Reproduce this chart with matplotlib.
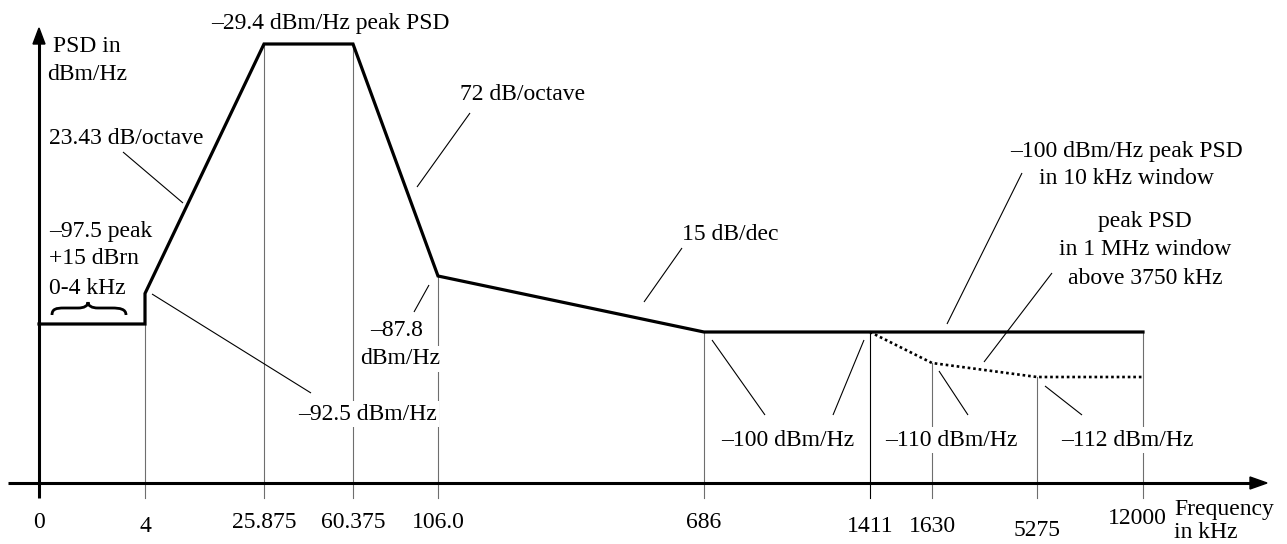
import numpy as np
import matplotlib
matplotlib.use("Agg")
import matplotlib.pyplot as plt
from matplotlib.lines import Line2D
from matplotlib.patches import Polygon, PathPatch
from matplotlib.path import Path
import matplotlib.transforms as mtransforms

# ---------------- data ----------------
tick_freqs = [0, 4, 25.875, 60.375, 106.0, 686, 1411, 1630, 5275, 12000]
tick_labels = ["0", "4", "25.875", "60.375", "106.0", "686", "1411", "1630", "5275", "12000"]

mask_freq = [0, 4, 4, 25.875, 60.375, 106.0, 686, 12000]
mask_psd = [-97.5, -97.5, -92.5, -29.4, -29.4, -87.8, -100, -100]

window_freq = [1411, 1630, 5275, 12000]
window_psd = [-100, -110, -112, -112]

drop_freq = [4, 25.875, 60.375, 106.0, 686, 1411, 1630, 5275, 12000]
drop_psd = [-97.5, -29.4, -29.4, -87.8, -100, -100, -110, -112, -100]

# ---------------- layout (schematic, non-proportional axes) ----------------
W, H = 1287, 544
x_anchor_px = [39, 145, 264, 353, 438, 704, 870, 932, 1037, 1143]
psd_anchor = [-112, -110, -100, -97.5, -92.5, -87.8, -29.4]
y_anchor_px = [377, 363, 332, 324, 293.5, 276, 44]

FONT = "Liberation Serif"
FS = 17
DY = 2  # vertical nudge of text centres (px)


def pw(xs, ys):
    xs = np.asarray(xs, float)
    ys = np.asarray(ys, float)

    def f(v):
        v = np.asarray(v, float)
        out = np.interp(v, xs, ys)
        lo = ys[0] + (v - xs[0]) * (ys[1] - ys[0]) / (xs[1] - xs[0])
        hi = ys[-1] + (v - xs[-1]) * (ys[-1] - ys[-2]) / (xs[-1] - xs[-2])
        return np.where(v < xs[0], lo, np.where(v > xs[-1], hi, out))
    return f


fx = pw(tick_freqs, x_anchor_px)
ix = pw(x_anchor_px, tick_freqs)
ys_scaled = H - np.asarray(y_anchor_px, float)
fy = pw(psd_anchor, ys_scaled)
iy = pw(ys_scaled, psd_anchor)

fig = plt.figure(figsize=(W / 100, H / 100), dpi=100)
ax = fig.add_axes([0, 0, 1, 1])
ax.set_xscale("function", functions=(fx, ix))
ax.set_yscale("function", functions=(fy, iy))
ax.set_xlim(float(ix(0)), float(ix(W)))
ax.set_ylim(float(iy(0)), float(iy(H)))
ax.axis("off")


def P(x, y):
    return (x / W, 1 - y / H)


def line_px(xs, ys, lw=0.8, color="black", z=4):
    fig.add_artist(Line2D([x / W for x in xs], [1 - y / H for y in ys],
                          transform=fig.transFigure, lw=lw, color=color,
                          zorder=z, solid_capstyle="butt"))


def txt(x, y, s, ha="center", bg=False):
    kw = {}
    if bg:
        kw["bbox"] = dict(facecolor="white", edgecolor="none", pad=1.5)
    fig.text(x / W, 1 - (y + DY) / H, s, ha=ha, va="center", fontsize=FS,
             family=FONT, zorder=5, **kw)


# ---------------- axes (arrows) ----------------
AX_Y = 483
TICK_BOTTOM = 498
line_px([8, 1252], [AX_Y, AX_Y], lw=2.2)
fig.add_artist(Polygon([P(1267, AX_Y), P(1250, AX_Y - 6), P(1250, AX_Y + 6)],
                       closed=True, transform=fig.transFigure, color="black", zorder=4))
line_px([39, 39], [TICK_BOTTOM, 41], lw=2.2)
fig.add_artist(Polygon([P(39, 28), P(33, 44), P(45, 44)],
                       closed=True, transform=fig.transFigure, color="black", zorder=4))

# vertical drop lines from curve to below the axis
ybot = float(iy(H - TICK_BOTTOM))
for f, p in zip(drop_freq, drop_psd):
    col = "black" if f == 1411 else "#6e6e6e"
    ax.plot([f, f], [p, ybot], color=col, lw=0.8, clip_on=False, zorder=1)

# PSD mask
ax.plot(mask_freq, mask_psd, color="black", lw=2.3, clip_on=False, zorder=3,
        solid_joinstyle="miter")
ax.plot(window_freq, window_psd, color="black", lw=1.9, clip_on=False, zorder=3,
        linestyle=(0, (1.0, 1.1)))

# tick labels
label_y = [521, 524, 521, 520, 520, 521, 525, 525, 528, 517]
label_dx = [0, 0, 0, 0, 0, 0, 0, 0, 0, -6]
for f, lab, yy, dx in zip(tick_freqs, tick_labels, label_y, label_dx):
    tr = mtransforms.blended_transform_factory(ax.transData, fig.transFigure) + \
        mtransforms.ScaledTranslation(dx / 100, 0, fig.dpi_scale_trans)
    ax.text(f, 1 - (yy + DY) / H, lab, transform=tr, ha="center", va="center",
            fontsize=FS, family=FONT)
txt(1174, 508, "Frequency", ha="left")
txt(1174, 530, "in kHz", ha="left")

# ---------------- annotations ----------------
txt(87, 45, "PSD in")
txt(87, 72, "dBm/Hz")
txt(330, 22, "\u201329.4 dBm/Hz peak PSD")
txt(49, 137, "23.43 dB/octave", ha="left")
line_px([123, 183], [152, 203])
txt(49, 230, "\u201397.5 peak", ha="left")
txt(49, 257, "+15 dBrn", ha="left")
txt(49, 287, "0-4 kHz", ha="left")

# curly brace over 0-4 kHz
verts = [(52, 315), (52, 309), (56, 308), (64, 308),
         (78, 308),
         (84, 308), (88, 306), (88, 302),
         (88, 306), (92, 308), (98, 308),
         (112, 308),
         (120, 308), (126, 309), (126, 315)]
codes = [Path.MOVETO, Path.CURVE4, Path.CURVE4, Path.CURVE4,
         Path.LINETO,
         Path.CURVE4, Path.CURVE4, Path.CURVE4,
         Path.CURVE4, Path.CURVE4, Path.CURVE4,
         Path.LINETO,
         Path.CURVE4, Path.CURVE4, Path.CURVE4]
bp = Path([P(x, y) for x, y in verts], codes)
fig.add_artist(PathPatch(bp, transform=fig.transFigure, fill=False, lw=2.0,
                         edgecolor="black", zorder=4))

txt(523, 93, "72 dB/octave")
line_px([470, 417], [113, 187])
txt(730, 233, "15 dB/dec")
line_px([682, 644], [248, 302])

txt(397, 328, "\u201387.8", bg=True)
txt(400, 357, "dBm/Hz", bg=True)
line_px([429, 414], [285, 312])

txt(367, 412, "\u201392.5 dBm/Hz", bg=True)
line_px([152, 311], [294, 393])

txt(788, 438, "\u2013100 dBm/Hz", bg=True)
line_px([712, 765], [340, 415])
line_px([864, 833], [340, 415])
txt(951, 438, "\u2013110 dBm/Hz", bg=True)
line_px([939, 968], [371, 415])
txt(1127, 438, "\u2013112 dBm/Hz", bg=True)
line_px([1045, 1082], [386, 415])

txt(1126, 150, "\u2013100 dBm/Hz peak PSD")
txt(1126, 177, "in 10 kHz window")
line_px([1022, 947], [173, 324])
txt(1145, 220, "peak PSD")
txt(1145, 248, "in 1 MHz window")
txt(1145, 277, "above 3750 kHz")
line_px([1052, 984], [273, 362])

fig.savefig("out.png", dpi=100, facecolor="white")
